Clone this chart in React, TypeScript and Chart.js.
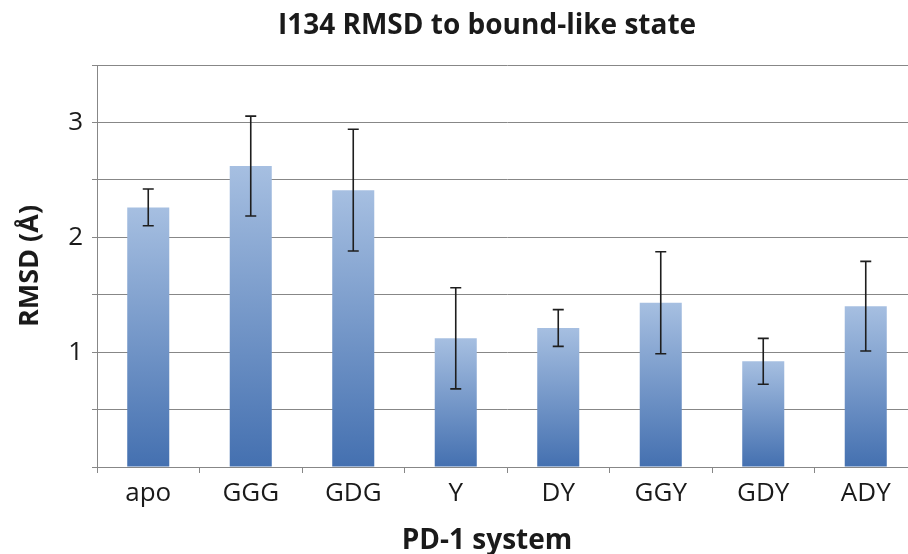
import React, { useEffect, useRef } from "react";
import { Chart, registerables } from "chart.js";

Chart.register(...registerables);

const categories = ["apo", "GGG", "GDG", "Y", "DY", "GGY", "GDY", "ADY"];
const rmsd = [2.26, 2.62, 2.41, 1.12, 1.21, 1.43, 0.92, 1.4];
const rmsdError = [0.16, 0.435, 0.53, 0.44, 0.16, 0.444, 0.2, 0.39];
const yTickLabels = [1, 2, 3];

const FONT = "'Open Sans', 'Noto Sans', sans-serif";
const TOP_COLOR = "#a6bfe1";
const BOTTOM_COLOR = "#4470b0";
const GRID = "#878787";

const errorBarPlugin = {
  id: "errorBars",
  afterDatasetsDraw(chart: any) {
    const meta = chart.getDatasetMeta(0);
    const y = chart.scales.y;
    const ctx = chart.ctx;
    ctx.save();
    ctx.strokeStyle = "#1e1e1e";
    ctx.lineWidth = 1.6;
    meta.data.forEach((el: any, i: number) => {
      const x = el.x;
      const hi = y.getPixelForValue(rmsd[i] + rmsdError[i]);
      const lo = y.getPixelForValue(rmsd[i] - rmsdError[i]);
      const cap = 5.5;
      ctx.beginPath();
      ctx.moveTo(x, hi);
      ctx.lineTo(x, lo);
      ctx.moveTo(x - cap, hi);
      ctx.lineTo(x + cap, hi);
      ctx.moveTo(x - cap, lo);
      ctx.lineTo(x + cap, lo);
      ctx.stroke();
    });
    ctx.restore();
  },
};

export default function App() {
  const ref = useRef<HTMLCanvasElement>(null);
  useEffect(() => {
    document.body.style.margin = "0";
    const canvas = ref.current!;
    const chart = new Chart(canvas, {
      type: "bar",
      data: {
        labels: categories,
        datasets: [
          {
            data: rmsd,
            barPercentage: 0.41,
            categoryPercentage: 1,
            backgroundColor: (c: any) => {
              const ch = c.chart;
              const ys = ch.scales?.y;
              if (!ys || c.type !== "data") return TOP_COLOR;
              const top = ys.getPixelForValue(c.raw);
              const bottom = ys.getPixelForValue(0);
              if (!isFinite(top) || !isFinite(bottom) || top === bottom) return TOP_COLOR;
              const g = ch.ctx.createLinearGradient(0, top, 0, bottom);
              g.addColorStop(0, TOP_COLOR);
              g.addColorStop(1, BOTTOM_COLOR);
              return g;
            },
            borderWidth: 0,
          },
        ],
      },
      options: {
        animation: false,
        responsive: false,
        devicePixelRatio: 1,
        layout: { padding: 0 },
        plugins: {
          legend: { display: false },
          tooltip: { enabled: false },
          title: {
            display: true,
            text: "I134 RMSD to bound-like state",
            color: "#1a1a1a",
            font: { family: FONT, size: 28, weight: "bold" },
            padding: { top: 9, bottom: 22.4 },
          },
          subtitle: {
            display: true,
            position: "bottom",
            text: "PD-1 system",
            color: "#1a1a1a",
            font: { family: FONT, size: 28, weight: "bold", lineHeight: 0.8 },
            padding: { top: 0, bottom: 2 },
          },
        },
        scales: {
          x: {
            offset: true,
            grid: {
              display: true,
              drawOnChartArea: false,
              drawTicks: true,
              tickLength: 6,
              color: GRID,
              offset: true,
            },
            border: { display: true, color: GRID, width: 1 },
            ticks: {
              color: "#1a1a1a",
              font: { family: FONT, size: 26 },
              padding: 5,
            },
            afterFit: (s: any) => {
              s.height = 62.6;
            },
          },
          y: {
            min: 0,
            max: 3.5,
            grid: { color: GRID, lineWidth: 1, tickLength: 5 },
            border: { display: true, color: GRID, width: 1 },
            ticks: {
              stepSize: 0.5,
              color: "#1a1a1a",
              font: { family: FONT, size: 26 },
              padding: 9,
              callback: (v: any) => (yTickLabels.includes(Number(v)) ? String(v) : ""),
            },
            title: {
              display: true,
              text: "RMSD (Å)",
              color: "#1a1a1a",
              font: { family: FONT, size: 27, weight: "bold" },
              padding: { top: 14, bottom: 0 },
            },
            afterFit: (s: any) => {
              s.width = 97;
            },
          },
          y2: {
            position: "right",
            display: true,
            grid: { display: false, drawOnChartArea: false, drawTicks: false },
            border: { display: false },
            ticks: { display: false },
            afterFit: (s: any) => {
              s.width = 57;
            },
          },
        },
      },
      plugins: [errorBarPlugin],
    });
    return () => chart.destroy();
  }, []);
  return (
    <div style={{ width: 908, height: 554, overflow: "hidden", background: "#fff" }}>
      <canvas ref={ref} width={974} height={554} style={{ display: "block" }} />
    </div>
  );
}
